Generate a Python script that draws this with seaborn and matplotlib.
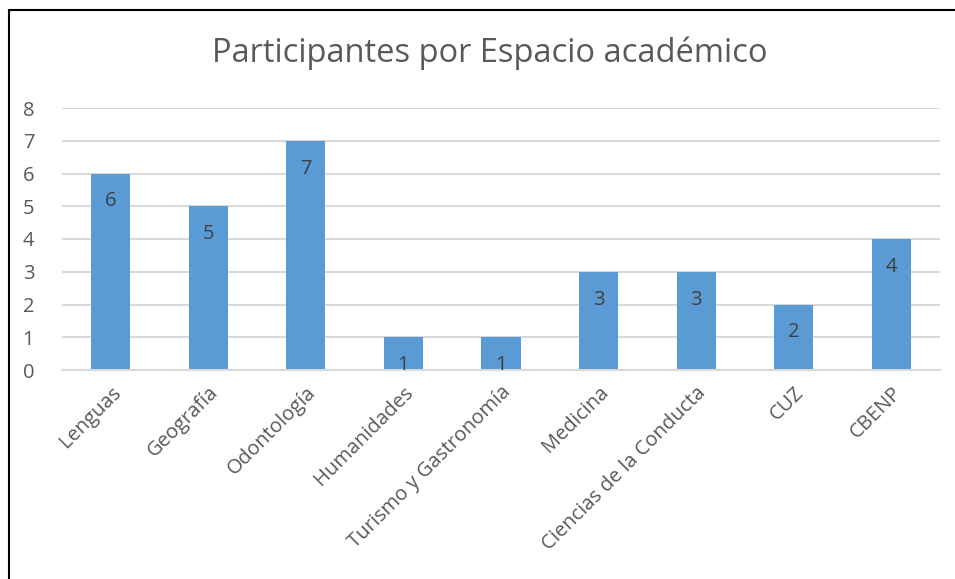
import matplotlib
matplotlib.use("Agg")
import matplotlib.pyplot as plt
import seaborn as sns
import pandas as pd
from matplotlib.lines import Line2D

# datos
espacios = ["Lenguas", "Geografía", "Odontología", "Humanidades",
            "Turismo y Gastronomía", "Medicina", "Ciencias de la Conducta",
            "CUZ", "CBENP"]
participantes = [6, 5, 7, 1, 1, 3, 3, 2, 4]
y_ticks = [0, 1, 2, 3, 4, 5, 6, 7, 8]

df = pd.DataFrame({"espacio": espacios, "n": participantes})

sns.set_theme(style="white")
plt.rcParams["font.family"] = ["Open Sans", "DejaVu Sans"]

fig = plt.figure(figsize=(9.55, 5.79), dpi=100)
ax = fig.add_axes([62 / 955, 1 - 370 / 579, (940 - 62) / 955, (370 - 108) / 579])

sns.barplot(data=df, x="espacio", y="n", color="#5B9BD5", width=0.4,
            saturation=1, linewidth=0, ax=ax)

ax.set_ylim(0, 8)
ax.set_xlim(-0.5, len(espacios) - 0.5)
ax.set_yticks(y_ticks)
ax.yaxis.grid(True, color="#D9D9D9", linewidth=1.5)
ax.set_axisbelow(True)
for s in ["top", "right", "left"]:
    ax.spines[s].set_visible(False)
ax.spines["bottom"].set_color("#D9D9D9")
ax.spines["bottom"].set_linewidth(1.5)
ax.tick_params(axis="both", length=0, colors="#595959", labelsize=14.5)
ax.tick_params(axis="y", pad=20)
ax.tick_params(axis="x", pad=9)
ax.set_xlabel("")
ax.set_ylabel("")
plt.setp(ax.get_xticklabels(), rotation=45, ha="right", rotation_mode="anchor")

# etiquetas de datos (extremo interior)
for i, v in enumerate(participantes):
    ax.annotate(str(v), (i, v), xytext=(0, -20), textcoords="offset points",
                ha="center", va="center", fontsize=14.5, color="#404040")

fig.text(490 / 955, 1 - 53 / 579, "Participantes por Espacio académico",
         ha="center", va="center", fontsize=23.5, color="#595959")

# borde del gráfico (izquierda y arriba)
fig.add_artist(Line2D([9 / 955, 9 / 955], [0, 1 - 10 / 579], color="black", lw=1.5))
fig.add_artist(Line2D([9 / 955, 1], [1 - 10 / 579, 1 - 10 / 579], color="black", lw=1.5))

fig.savefig("out.png", dpi=100)
